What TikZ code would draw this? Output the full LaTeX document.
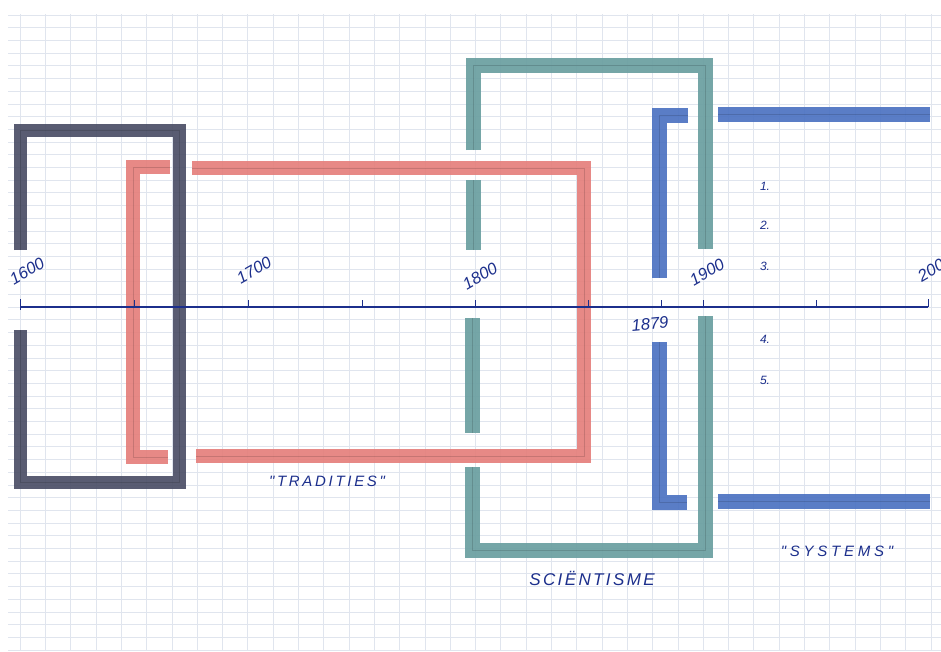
\documentclass[tikz,border=0pt]{standalone}
\usepackage{fontspec}
\newfontfamily\hand{Liberation Sans}
\definecolor{papergrid}{HTML}{E0E5EE}
\definecolor{slatemark}{HTML}{4B4F66}
\definecolor{redmark}{HTML}{E5807C}
\definecolor{tealmark}{HTML}{6A9FA0}
\definecolor{bluemark}{HTML}{4C73C2}
\definecolor{ink}{HTML}{1C2F8C}
\tikzset{
  gridline/.style={papergrid, line width=0.45pt},
  marker/.style={line width=14pt, line cap=butt, line join=miter, draw opacity=0.92,
    postaction={draw=black, draw opacity=0.14, line width=0.5pt}},
  axisline/.style={ink, line width=1.2pt},
  ticky/.style={ink, line width=1pt},
  year/.style={text=ink, font=\hand\itshape\fontsize{16.5}{16.5}\selectfont, rotate=30},
  rowno/.style={text=ink, font=\hand\itshape\fontsize{12}{12}\selectfont},
  caption/.style={text=ink}
}
\begin{document}
\begin{tikzpicture}[x=1pt, y=-1pt]
  % paper
  \fill[white] (0,0) rectangle (941,651);
  \useasboundingbox (0,0) rectangle (941,651);
  \foreach \k in {0,...,50}
    \draw[gridline] (8,{14.9+12.7*\k}) -- (941,{14.9+12.7*\k});
  \foreach \k in {0,...,36}
    \draw[gridline] ({20+25.3*\k},14) -- ({20+25.3*\k},651);

  % slate bracket
  \draw[marker, draw=slatemark, line width=13pt]
    (20,250) -- (20,130) -- (179,130) -- (179,482) -- (20,482) -- (20,330);

  % red brackets
  \draw[marker, draw=redmark] (170,167) -- (133,167) -- (133,457) -- (168,457);
  \draw[marker, draw=redmark] (192,168) -- (584,168) -- (584,456) -- (196,456);

  % teal bracket
  \draw[marker, draw=tealmark, line width=15pt]
    (473,150) -- (473,65) -- (705,65) -- (705,249);
  \draw[marker, draw=tealmark, line width=15pt] (473,180) -- (473,250);
  \draw[marker, draw=tealmark, line width=15pt] (472,318) -- (472,433);
  \draw[marker, draw=tealmark, line width=15pt]
    (472,467) -- (472,550) -- (705,550) -- (705,316);

  % blue brackets
  \draw[marker, draw=bluemark, line width=15pt] (688,115) -- (659,115) -- (659,278);
  \draw[marker, draw=bluemark, line width=15pt] (718,114) -- (930,114);
  \draw[marker, draw=bluemark, line width=15pt] (659,342) -- (659,502) -- (687,502);
  \draw[marker, draw=bluemark, line width=15pt] (718,501) -- (930,501);

  % time axis
  \draw[axisline] (20,307) -- (928,307);
  \draw[ticky] (20,299) -- (20,310);
  \foreach \x in {134,248,362,475,588,661,703,816}
    \draw[ticky] (\x,300) -- (\x,307);
  \draw[ticky] (928,299) -- (928,307);

  % year labels
  \node[year] (y1600) at (27,271) {1600};
  \node[year] (y1700) at (254,270) {1700};
  \node[year] (y1800) at (480,276) {1800};
  \node[year] (y1900) at (707,272) {1900};
  \node[year] (y2000) at (935,268) {2000};
  \node[year, rotate=-25] (y1879) at (650,324) {1879};

  % numbered rows
  \node[rowno] (r1) at (765,186) {1.};
  \node[rowno] (r2) at (765,225) {2.};
  \node[rowno] (r3) at (765,266) {3.};
  \node[rowno] (r4) at (765,339) {4.};
  \node[rowno] (r5) at (765,380) {5.};

  % captions
  \node[caption, font=\hand\itshape\fontsize{15}{15}\selectfont\addfontfeature{LetterSpace=18}]
    (trad) at (327,481) {"TRADITIES"};
  \node[caption, font=\hand\itshape\fontsize{17}{17}\selectfont\addfontfeature{LetterSpace=14}]
    (sci) at (592,578) {SCIËNTISME};
  \node[caption, font=\hand\itshape\fontsize{15}{15}\selectfont\addfontfeature{LetterSpace=25}]
    (sys) at (837,551) {"SYSTEMS"};
\end{tikzpicture}
\end{document}
